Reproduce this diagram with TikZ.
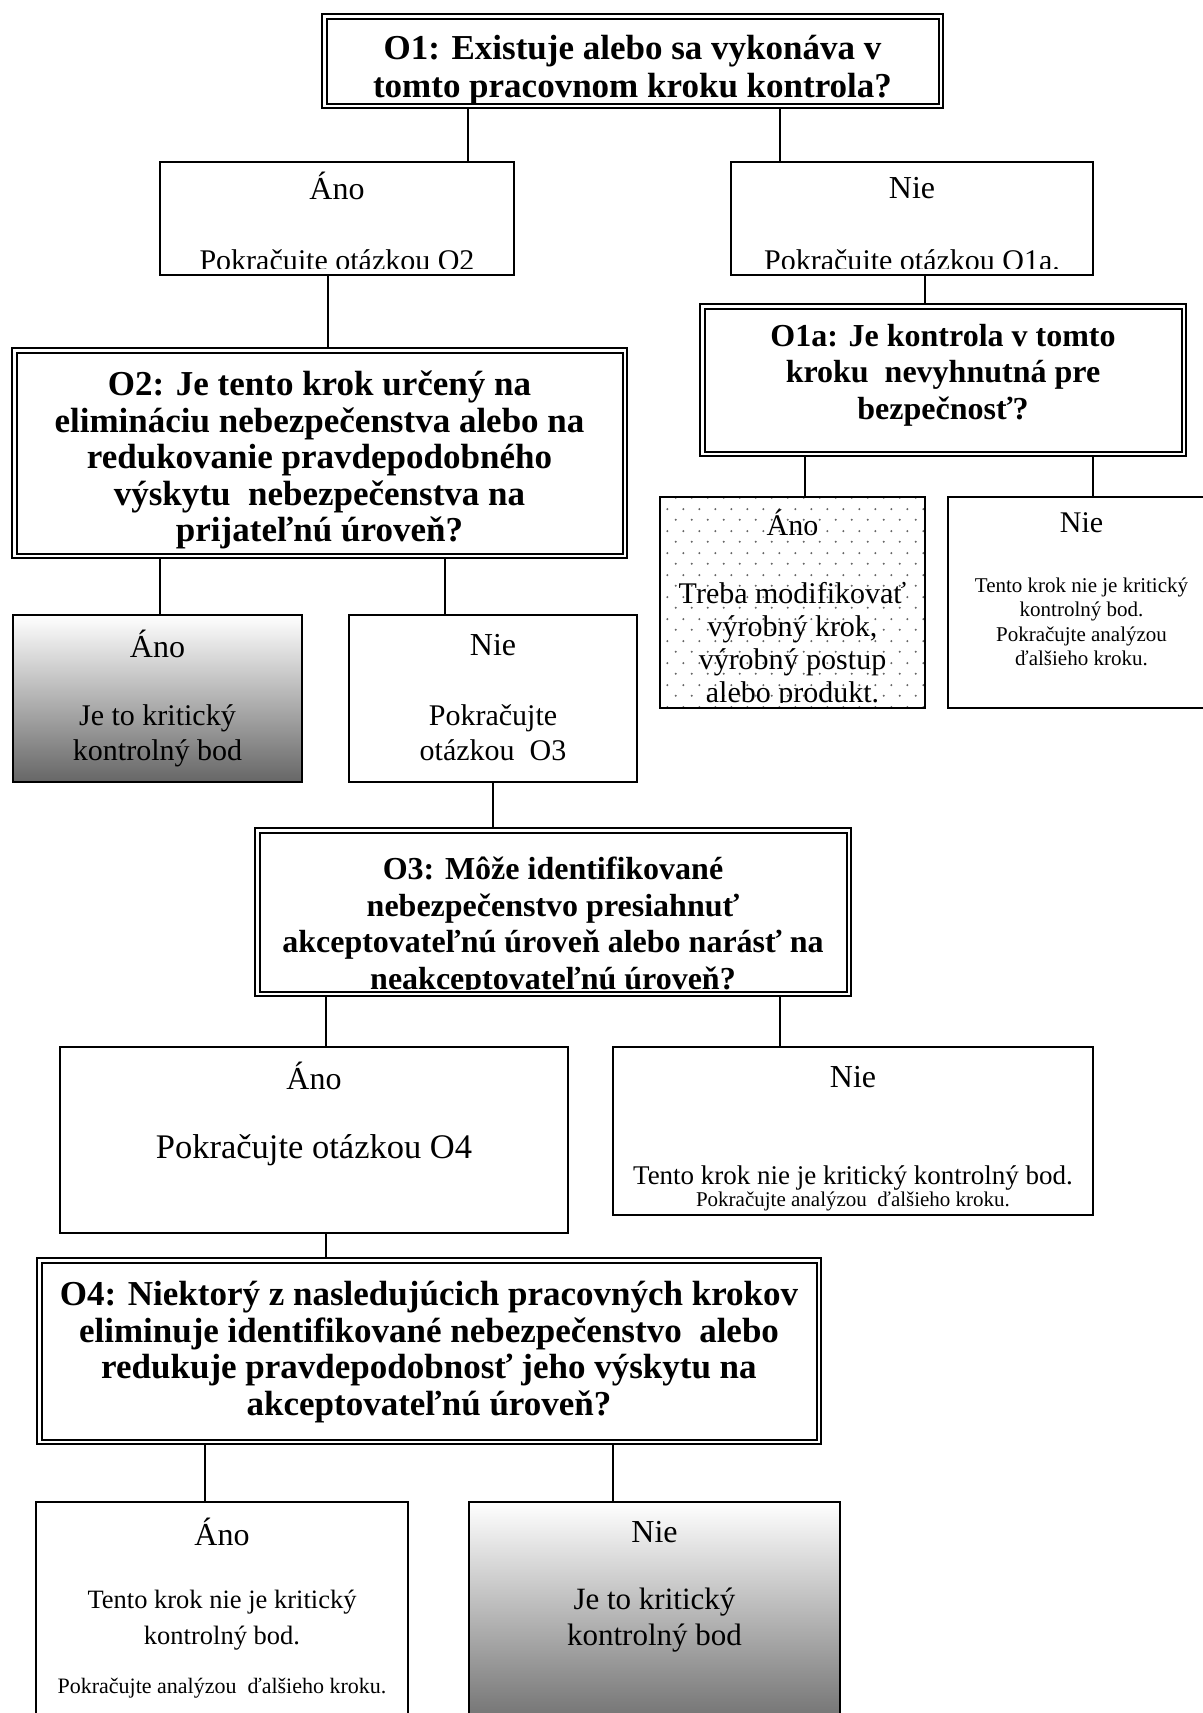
\documentclass[tikz,border=0pt]{standalone}
\usepackage{fontspec}
\setmainfont{Liberation Serif}
\usetikzlibrary{calc,patterns.meta}

\tikzdeclarepattern{
  name=sparsedots,
  type=uncolored,
  bounding box={(0pt,0pt) and (16pt,22pt)},
  tile size={(16pt,22pt)},
  code={
    \fill (4pt,5.5pt) circle [radius=1.2pt];
    \fill (12pt,16.5pt) circle [radius=1.2pt];
  }
}

\newcommand{\qfont}{\fontsize{35}{36.5}\selectfont\bfseries}
\newcommand{\qsmfont}{\fontsize{32}{36.5}\selectfont\bfseries}
\newcommand{\hdfont}{\fontsize{32}{36}\selectfont}
\newcommand{\bdfont}{\fontsize{30}{35}\selectfont}
\newcommand{\smfont}{\fontsize{21}{24.5}\selectfont}

\tikzset{
  qbox/.style={draw,double,line width=2pt,double distance=2.5pt,inner sep=0pt,outer sep=3.25pt},
  abox/.style={draw,line width=1.6pt,inner sep=0pt},
  link/.style={line width=1.6pt},
  qtext/.style={inner sep=0pt,align=center,font=\qfont},
  hd/.style={inner sep=0pt,font=\hdfont},
  bd/.style={inner sep=0pt,align=center,font=\bdfont},
  sm/.style={inner sep=0pt,align=center,font=\smfont},
  grad/.style={top color=white,middle color=black!12,bottom color=black!60},
  dotfill/.style={pattern=sparsedots,pattern color=black!60}
}

\begin{document}
\begin{tikzpicture}[x=1pt,y=-1pt]
  \useasboundingbox (0,0) rectangle (1202,1713);

  % question boxes
  \node[qbox,minimum width=616.5,minimum height=89.5] (o1) at (632.5,61) {};
  \node[qtext,font=\fontsize{35}{38}\selectfont\bfseries] (o1t) at ([yshift=-9pt]o1.center) {O1: Existuje alebo sa vykonáva v\\tomto pracovnom kroku kontrola?};

  \node[qbox,minimum width=481.5,minimum height=147.5] (o1a) at (943,380) {};
  \node[qtext,font=\qsmfont] (o1at) at ([yshift=5pt]o1a.center) {O1a: Je kontrola v tomto\\kroku\ \ nevyhnutná pre\\bezpečnosť?};

  \node[qbox,minimum width=610.5,minimum height=205.5] (o2) at (319.5,453) {};
  \node[qtext] (o2t) at ([yshift=-7pt]o2.center) {O2: Je tento krok určený na\\elimináciu nebezpečenstva alebo na\\redukovanie pravdepodobného\\výskytu\ \ nebezpečenstva na\\prijateľnú úroveň?};

  \node[qbox,minimum width=591.5,minimum height=163.5] (o3) at (553,912) {};
  \begin{scope}
    \clip ($(o3.north west)+(8,8)$) rectangle ($(o3.south east)+(-8,-8)$);
    \node[qtext,font=\qsmfont,anchor=south] (o3t) at ($(o3.south)+(0,-1)$) {O3: Môže identifikované\\nebezpečenstvo presiahnuť\\akceptovateľnú úroveň alebo narásť na\\neakceptovateľnú úroveň?};
  \end{scope}

  \node[qbox,minimum width=779.5,minimum height=181.5] (o4) at (429,1351) {};
  \node[qtext] (o4t) at ([yshift=-1pt]o4.center) {O4: Niektorý z nasledujúcich pracovných krokov\\eliminuje identifikované nebezpečenstvo\ \ alebo\\redukuje pravdepodobnosť jeho výskytu na\\akceptovateľnú úroveň?};

  % answer boxes
  \node[abox,minimum width=354,minimum height=113] (a1) at (337,218.5) {};
  \node[hd] (a1h) at ($(a1.north)+(0,25)$) {Áno};
  \begin{scope}
    \clip (a1.north west) rectangle ($(a1.south east)+(0,-7)$);
    \node[bd,anchor=base] (a1b) at ($(a1.south)+(0,-5)$) {Pokračujte otázkou O2};
  \end{scope}

  \node[abox,minimum width=362,minimum height=113] (n1) at (912,218.5) {};
  \node[hd] (n1h) at ($(n1.north)+(0,27)$) {Nie};
  \begin{scope}
    \clip (n1.north west) rectangle ($(n1.south east)+(0,-7)$);
    \node[bd,anchor=base] (n1b) at ($(n1.south)+(0,-5)$) {Pokračujte otázkou O1a.};
  \end{scope}

  \node[abox,dotfill,minimum width=265,minimum height=211] (a1a) at (792.5,602.5) {};
  \node[hd,font=\bdfont] (a1ah) at ($(a1a.north)+(0,27)$) {Áno};
  \begin{scope}
    \clip (a1a.north west) rectangle ($(a1a.south east)+(0,-6)$);
    \node[bd,font=\fontsize{30}{33}\selectfont,anchor=south] (a1ab) at (a1a.south) {Treba modifikovať\\výrobný krok,\\výrobný postup\\alebo produkt.};
  \end{scope}

  \node[abox,minimum width=267,minimum height=211] (n1a) at (1081.5,602.5) {};
  \node[hd,font=\bdfont] (n1ah) at ($(n1a.north)+(0,27)$) {Nie};
  \node[sm,anchor=north] (n1ab) at ($(n1a.north)+(0,81)$) {Tento krok nie je kritický\\kontrolný bod.\\Pokračujte analýzou\\ďalšieho kroku.};

  \node[abox,grad,minimum width=289,minimum height=167] (a2) at (157.5,698.5) {};
  \node[hd] (a2h) at ($(a2.north)+(0,30)$) {Áno};
  \node[bd,anchor=north] (a2b) at ($(a2.north)+(0,90.5)$) {Je to kritický\\kontrolný bod};

  \node[abox,minimum width=288,minimum height=167] (n2) at (493,698.5) {};
  \node[hd] (n2h) at ($(n2.north)+(0,31)$) {Nie};
  \node[bd,anchor=north] (n2b) at ($(n2.north)+(0,90.5)$) {Pokračujte\\otázkou\ \ O3};

  \node[abox,minimum width=508,minimum height=186] (a3) at (314,1140) {};
  \node[hd] (a3h) at ($(a3.north)+(0,30)$) {Áno};
  \node[bd,font=\fontsize{34.5}{38}\selectfont] (a3b) at ($(a3.north)+(0,104)$) {Pokračujte otázkou O4};

  \node[abox,minimum width=480,minimum height=168] (n3) at (853,1131) {};
  \node[hd] (n3h) at ($(n3.north)+(0,31)$) {Nie};
  \node[bd,font=\fontsize{27}{31}\selectfont] (n3b) at ($(n3.north)+(0,132)$) {Tento krok nie je kritický kontrolný bod.};
  \node[sm] (n3c) at ($(n3.north)+(0,155)$) {Pokračujte analýzou\ \ ďalšieho kroku.};

  \node[abox,minimum width=372,minimum height=238] (a4) at (222,1621) {};
  \node[hd] (a4h) at ($(a4.north)+(0,31)$) {Áno};
  \node[bd,font=\fontsize{26.5}{36}\selectfont,anchor=north] (a4b) at ($(a4.north)+(0,89)$) {Tento krok nie je kritický\\kontrolný bod.};
  \node[sm,font=\fontsize{22}{26}\selectfont] (a4c) at ($(a4.north)+(0,187)$) {Pokračujte analýzou\ \ ďalšieho kroku.};

  \node[abox,grad,minimum width=371,minimum height=238] (n4) at (654.5,1621) {};
  \node[hd] (n4h) at ($(n4.north)+(0,31)$) {Nie};
  \node[bd,font=\fontsize{31}{36}\selectfont,anchor=north] (n4b) at ($(n4.north)+(0,87)$) {Je to kritický\\kontrolný bod};

  % connectors
  \draw[link] ([xshift=-164.5pt]o1.south) coordinate (c1) -- (c1 |- a1.north);
  \draw[link] ([xshift=147.5pt]o1.south) coordinate (c2) -- (c2 |- n1.north);
  \draw[link] ([xshift=-9pt]a1.south) coordinate (c3) -- (c3 |- o2.north);
  \draw[link] ([xshift=13pt]n1.south) coordinate (c4) -- (c4 |- o1a.north);
  \draw[link] ([xshift=-138pt]o1a.south) coordinate (c5) -- (c5 |- a1a.north);
  \draw[link] ([xshift=150pt]o1a.south) coordinate (c6) -- (c6 |- n1a.north);
  \draw[link] ([xshift=-159.5pt]o2.south) coordinate (c7) -- (c7 |- a2.north);
  \draw[link] ([xshift=125.5pt]o2.south) coordinate (c8) -- (c8 |- n2.north);
  \draw[link] (n2.south) -- (n2.south |- o3.north);
  \draw[link] ([xshift=-227pt]o3.south) coordinate (c9) -- (c9 |- a3.north);
  \draw[link] ([xshift=227pt]o3.south) coordinate (c10) -- (c10 |- n3.north);
  \draw[link] ([xshift=12pt]a3.south) coordinate (c11) -- (c11 |- o4.north);
  \draw[link] ([xshift=-224pt]o4.south) coordinate (c12) -- (c12 |- a4.north);
  \draw[link] ([xshift=184pt]o4.south) coordinate (c13) -- (c13 |- n4.north);
\end{tikzpicture}
\end{document}
